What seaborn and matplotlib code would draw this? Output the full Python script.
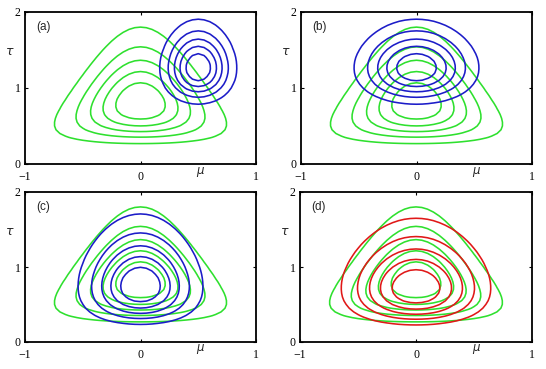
import numpy as np
import matplotlib
matplotlib.use('Agg')
import matplotlib.pyplot as plt
import seaborn as sns

# true posterior p(mu, tau) = N(mu | mu0, (lam0*tau)^-1) Gam(tau | a0, b0)
mu0, lam0, a0, b0 = 0.0, 10.0, 4.67, 5.17

# factorised q(mu) q(tau) for each panel: (mean, std of mu, gamma shape, gamma rate)
panels = ['(a)', '(b)', '(c)', '(d)']
q_mean = [0.5, 0.0, 0.0, 0.0]
q_std = [0.175, 0.285, 0.285, 0.34]
q_shape = [19.6, 19.6, 4.85, 4.87]
q_rate = [14.7, 14.7, 5.18, 5.38]
q_color = ['#1c1cc8', '#1c1cc8', '#1c1cc8', '#e01818']
green = '#2ee02e'

n_levels = 5
mu = np.linspace(-1, 1, 41)
tau = np.linspace(0.001, 2, 41)
M, T = np.meshgrid(mu, tau)


def levels_of(Z):
    return np.linspace(0, Z.max(), n_levels + 2)[1:-1]


log_p = (a0 - 0.5) * np.log(T) - b0 * T - lam0 * T * (M - mu0) ** 2 / 2
P = np.exp(log_p - log_p.max())

sns.set_theme(style='white')
plt.rcParams['font.family'] = ['Liberation Serif', 'DejaVu Serif']

fig = plt.figure(figsize=(5.46, 3.69), dpi=100)
W, H = 546, 369
boxes = [(25, 12, 256, 164), (301, 12, 532, 164),
         (25, 192, 256, 342), (300, 192, 532, 342)]

for i, (x0, y0, x1, y1) in enumerate(boxes):
    ax = fig.add_axes([x0 / W, (H - y1) / H, (x1 - x0) / W, (y1 - y0) / H])
    ax.contour(M, T, P, levels=levels_of(P), colors=green, linewidths=1.15)
    log_q = ((q_shape[i] - 1) * np.log(T) - q_rate[i] * T
             - (M - q_mean[i]) ** 2 / (2 * q_std[i] ** 2))
    Q = np.exp(log_q - log_q.max())
    ax.contour(M, T, Q, levels=levels_of(Q), colors=q_color[i], linewidths=1.15)

    ax.set_xlim(-1, 1)
    ax.set_ylim(0, 2)
    ax.set_xticks([-1, 0, 1])
    ax.set_yticks([0, 1, 2])
    ax.set_xticklabels(['\u22121', '0', '1'])
    ax.tick_params(direction='in', length=2.5, width=0.8, labelsize=8.5,
                   top=True, right=True, bottom=True, left=True,
                   colors='black')
    ax.tick_params(axis='x', pad=5)
    ax.tick_params(axis='y', pad=3)
    for s in ax.spines.values():
        s.set_color('black')
        s.set_linewidth(1.3)
    ax.text(0.05, 0.9, panels[i], transform=ax.transAxes, fontsize=8.5,
            family=['Liberation Sans', 'DejaVu Sans'], va='center', ha='left')
    ax.text(-0.065, 0.735, r'$\tau$', transform=ax.transAxes, fontsize=9,
            ha='center', va='center')
    ax.text(0.76, -0.05, r'$\mu$', transform=ax.transAxes, fontsize=8.5,
            ha='center', va='center')

fig.savefig('out.png', dpi=100)
